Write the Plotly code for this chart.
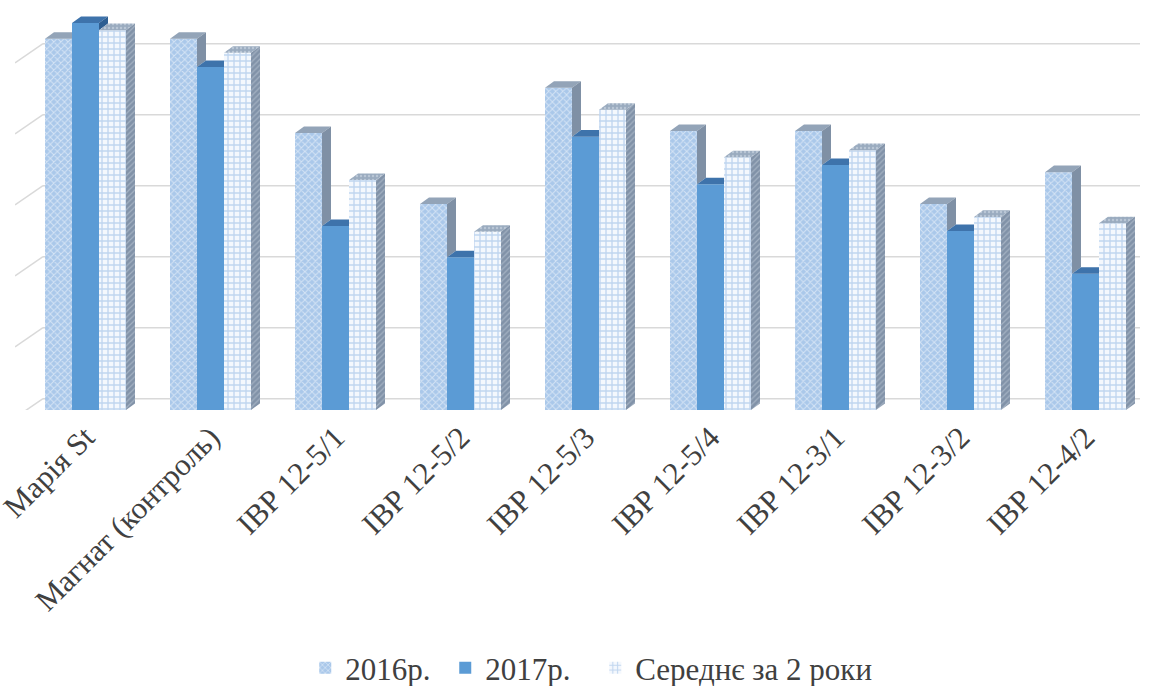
import plotly.graph_objects as go

# ---------------- data ----------------
categories = ["Марія St", "Магнат (контроль)", "ІВР 12-5/1", "ІВР 12-5/2", "ІВР 12-5/3",
              "ІВР 12-5/4", "ІВР 12-3/1", "ІВР 12-3/2", "ІВР 12-4/2"]
series_names = ["2016р.", "2017р.", "Середнє за 2 роки"]
v2016 = [5.23, 5.23, 3.90, 2.90, 4.54, 3.93, 3.93, 2.90, 3.35]
v2017 = [5.45, 4.83, 2.59, 2.15, 3.85, 3.18, 3.45, 2.52, 1.92]
vavg = [5.35, 5.03, 3.24, 2.51, 4.23, 3.56, 3.66, 2.72, 2.63]
grid_vals = [0, 1, 2, 3, 4, 5]

# ---------------- geometry (styling) ----------------
W = 0.216          # bar width (x units)
DX, DY = 0.072, 0.092   # 3D depth offset of bar faces
WALL_DY = 0.16     # back wall offset
SIDE_DY = -0.27    # side-wall diagonal drop
X_MIN, X_MAX = -0.564, 8.436
WALL_X = -0.34
Y_MAX = 400 / 71

FONT = "Liberation Serif"
TXT = "#404040"

xs = list(range(len(categories)))

fig = go.Figure()

# front bars
specs = [
    (series_names[0], v2016, -1.5 * W, 95,
     dict(color="#b9d3ef", pattern=dict(shape="x", bgcolor="#aac8ea", fgcolor="#ffffff",
                                         size=5, solidity=0.35, fillmode="overlay"))),
    (series_names[1], v2017, -0.5 * W, 105, dict(color="#5b9bd5")),
    (series_names[2], vavg, 0.5 * W, 260,
     dict(color="#f4f8fd", pattern=dict(shape="+", bgcolor="#f4f8fd", fgcolor="#8db4e2",
                                         size=6, solidity=0.4, fillmode="overlay"))),
]
for name, vals, off, lw, mk in specs:
    fig.add_trace(go.Bar(x=xs, y=vals, width=W, offset=off, name=name, legendwidth=lw,
                         marker=dict(line=dict(width=0), **mk), hoverinfo="skip"))


def poly_trace(polys, color, pattern=None):
    px, py = [], []
    for p in polys:
        for (a, b) in p:
            px.append(a)
            py.append(b)
        px.append(p[0][0])
        py.append(p[0][1])
        px.append(None)
        py.append(None)
    kw = dict(x=px, y=py, mode="lines", fill="toself", fillcolor=color,
              line=dict(width=0, color=color), showlegend=False, hoverinfo="skip")
    if pattern:
        kw["fillpattern"] = pattern
    return go.Scatter(**kw)


top16, side16, top17, side17, topA, sideA = [], [], [], [], [], []
for i in xs:
    a, b, c = v2016[i], v2017[i], vavg[i]
    xl16, xr16 = i - 1.5 * W, i - 0.5 * W
    xl17, xr17 = xr16, i + 0.5 * W
    xlA, xrA = xr17, i + 1.5 * W
    # 2016
    if b >= a:
        top16.append([(xl16, a), (xr16, a), (xr16, a + DY), (xl16 + DX, a + DY)])
    else:
        top16.append([(xl16, a), (xr16, a), (xr16 + DX, a + DY), (xl16 + DX, a + DY)])
        side16.append([(xr16, b), (xr16 + DX, b + DY), (xr16 + DX, a + DY), (xr16, a)])
    # 2017
    if c >= b:
        top17.append([(xl17, b), (xr17, b), (xr17, b + DY), (xl17 + DX, b + DY)])
    else:
        top17.append([(xl17, b), (xr17, b), (xr17 + DX, b + DY), (xl17 + DX, b + DY)])
        side17.append([(xr17, c), (xr17 + DX, c + DY), (xr17 + DX, b + DY), (xr17, b)])
    # average
    topA.append([(xlA, c), (xrA, c), (xrA + DX, c + DY), (xlA + DX, c + DY)])
    sideA.append([(xrA, 0), (xrA + DX, DY), (xrA + DX, c + DY), (xrA, c)])

fig.add_trace(poly_trace(top16, "#93a4b8"))
fig.add_trace(poly_trace(side16, "#7f90a5"))
fig.add_trace(poly_trace(top17, "#3e73ab"))
fig.add_trace(poly_trace(side17, "#2f5f92"))
fig.add_trace(poly_trace(topA, "#9aabbf",
                         dict(shape=".", bgcolor="#9aabbf", fgcolor="#d8e0ea", size=4, solidity=0.3)))
fig.add_trace(poly_trace(sideA, "#8192a8",
                         dict(shape="/", bgcolor="#8192a8", fgcolor="#c5d0dc", size=4, solidity=0.3)))

# back-wall gridlines and side-wall diagonals
shapes = []
for g in grid_vals:
    shapes.append(dict(type="line", xref="x", yref="y", layer="below",
                       x0=WALL_X, x1=X_MAX, y0=g + WALL_DY, y1=g + WALL_DY,
                       line=dict(color="#d9d9d9", width=1.5)))
    shapes.append(dict(type="line", xref="x", yref="y", layer="below",
                       x0=X_MIN, x1=WALL_X, y0=g + WALL_DY + SIDE_DY, y1=g + WALL_DY,
                       line=dict(color="#d9d9d9", width=1.5)))

fig.update_layout(
    width=1154, height=686,
    margin=dict(l=15, r=14, t=10, b=276, autoexpand=False),
    paper_bgcolor="white", plot_bgcolor="rgba(0,0,0,0)",
    barmode="overlay",
    shapes=shapes,
    showlegend=True,
    legend=dict(orientation="h", x=0.258, xanchor="left", y=-0.645, yanchor="middle",
                font=dict(family=FONT, size=31, color=TXT), traceorder="normal"),
    xaxis=dict(range=[X_MIN, X_MAX], tickvals=xs, ticktext=categories, tickangle=-45,
               showgrid=False, zeroline=False, showline=False, automargin=False,
               ticks="", ticklabelstandoff=2, ticklabelshift=0,
               ticklabeloverflow="allow",
               tickfont=dict(family=FONT, size=31, color=TXT), fixedrange=True),
    yaxis=dict(range=[0, Y_MAX], showgrid=False, zeroline=False, showline=False,
               automargin=False, showticklabels=False, ticks="", fixedrange=True),
)

fig.write_html("out.html")
